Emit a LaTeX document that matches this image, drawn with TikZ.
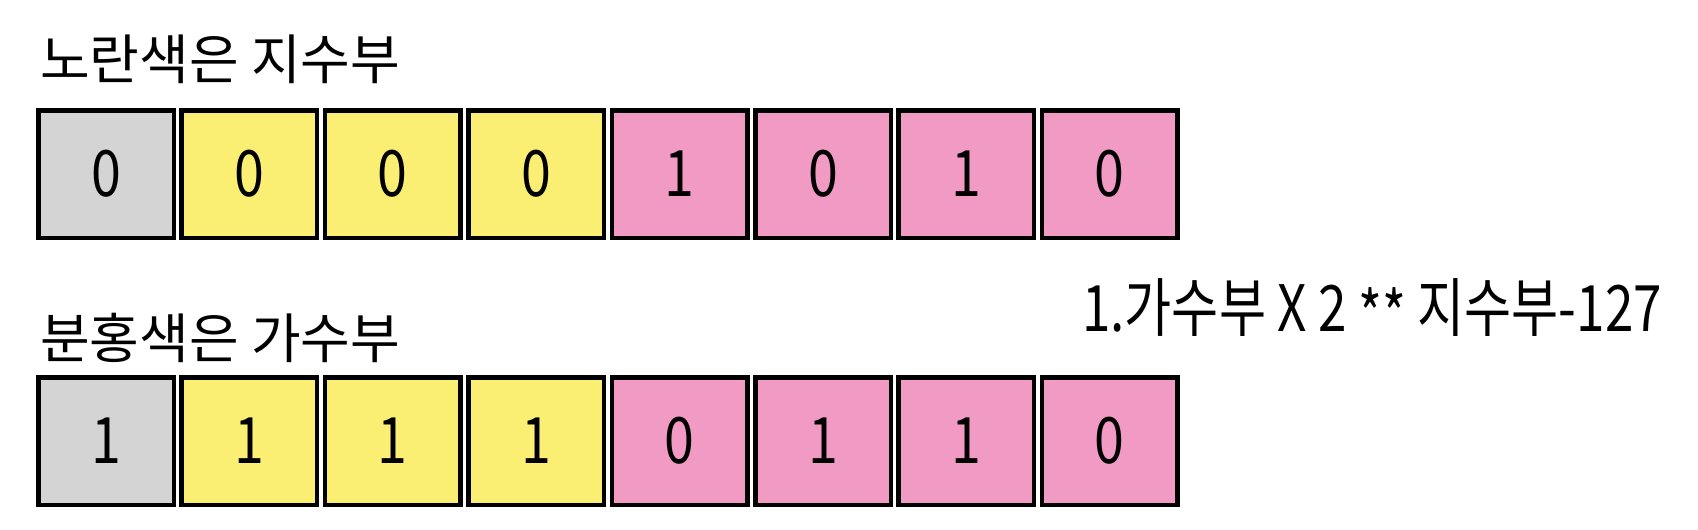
\documentclass[tikz,border=0pt]{standalone}
\usepackage{fontspec}
\newfontfamily\kr{Noto Sans CJK KR}
\newfontfamily\krc[FakeStretch=0.84]{Noto Sans CJK KR}
\newfontfamily\krf[FakeStretch=0.80]{Noto Sans CJK KR}
\definecolor{sgray}{HTML}{D4D4D4}
\definecolor{syellow}{HTML}{FBEF73}
\definecolor{spink}{HTML}{F09AC4}
\tikzset{
  bit/.style={draw=black, line width=4.5pt, minimum width=135.5pt, minimum height=127.5pt,
    inner sep=0pt, outer sep=0pt, font=\krc\fontsize{64}{64}\selectfont},
  title/.style={font=\kr\fontsize{54}{54}\selectfont, inner sep=0pt, anchor=base west},
}
\begin{document}
\begin{tikzpicture}[x=1pt,y=-1pt]
\useasboundingbox[fill=white] (0,0) rectangle (1698,530);
\node[title] (t1) at (40,79) {노란색은 지수부};
\node[title] (t2) at (40,358) {분홍색은 가수부};
\def\topbits{0,0,0,0,1,0,1,0}
\def\botbits{1,1,1,1,0,1,1,0}
\foreach \b [count=\i from 0] in \topbits {
  \ifnum\i=0 \def\c{sgray}\else\ifnum\i<4 \def\c{syellow}\else\def\c{spink}\fi\fi
  \node[bit, fill=\c] (a\i) at ({106+143.4*\i},174) {\b};
}
\foreach \b [count=\i from 0] in \botbits {
  \ifnum\i=0 \def\c{sgray}\else\ifnum\i<4 \def\c{syellow}\else\def\c{spink}\fi\fi
  \node[bit, fill=\c] (b\i) at ({106+143.4*\i},441) {\b};
}
\node[font=\krf\fontsize{64}{64}\selectfont, inner sep=0pt, anchor=west] (f) at (1082,309) {1.가수부 X 2 \raisebox{-7pt}{**} 지수부-127};
\end{tikzpicture}
\end{document}
